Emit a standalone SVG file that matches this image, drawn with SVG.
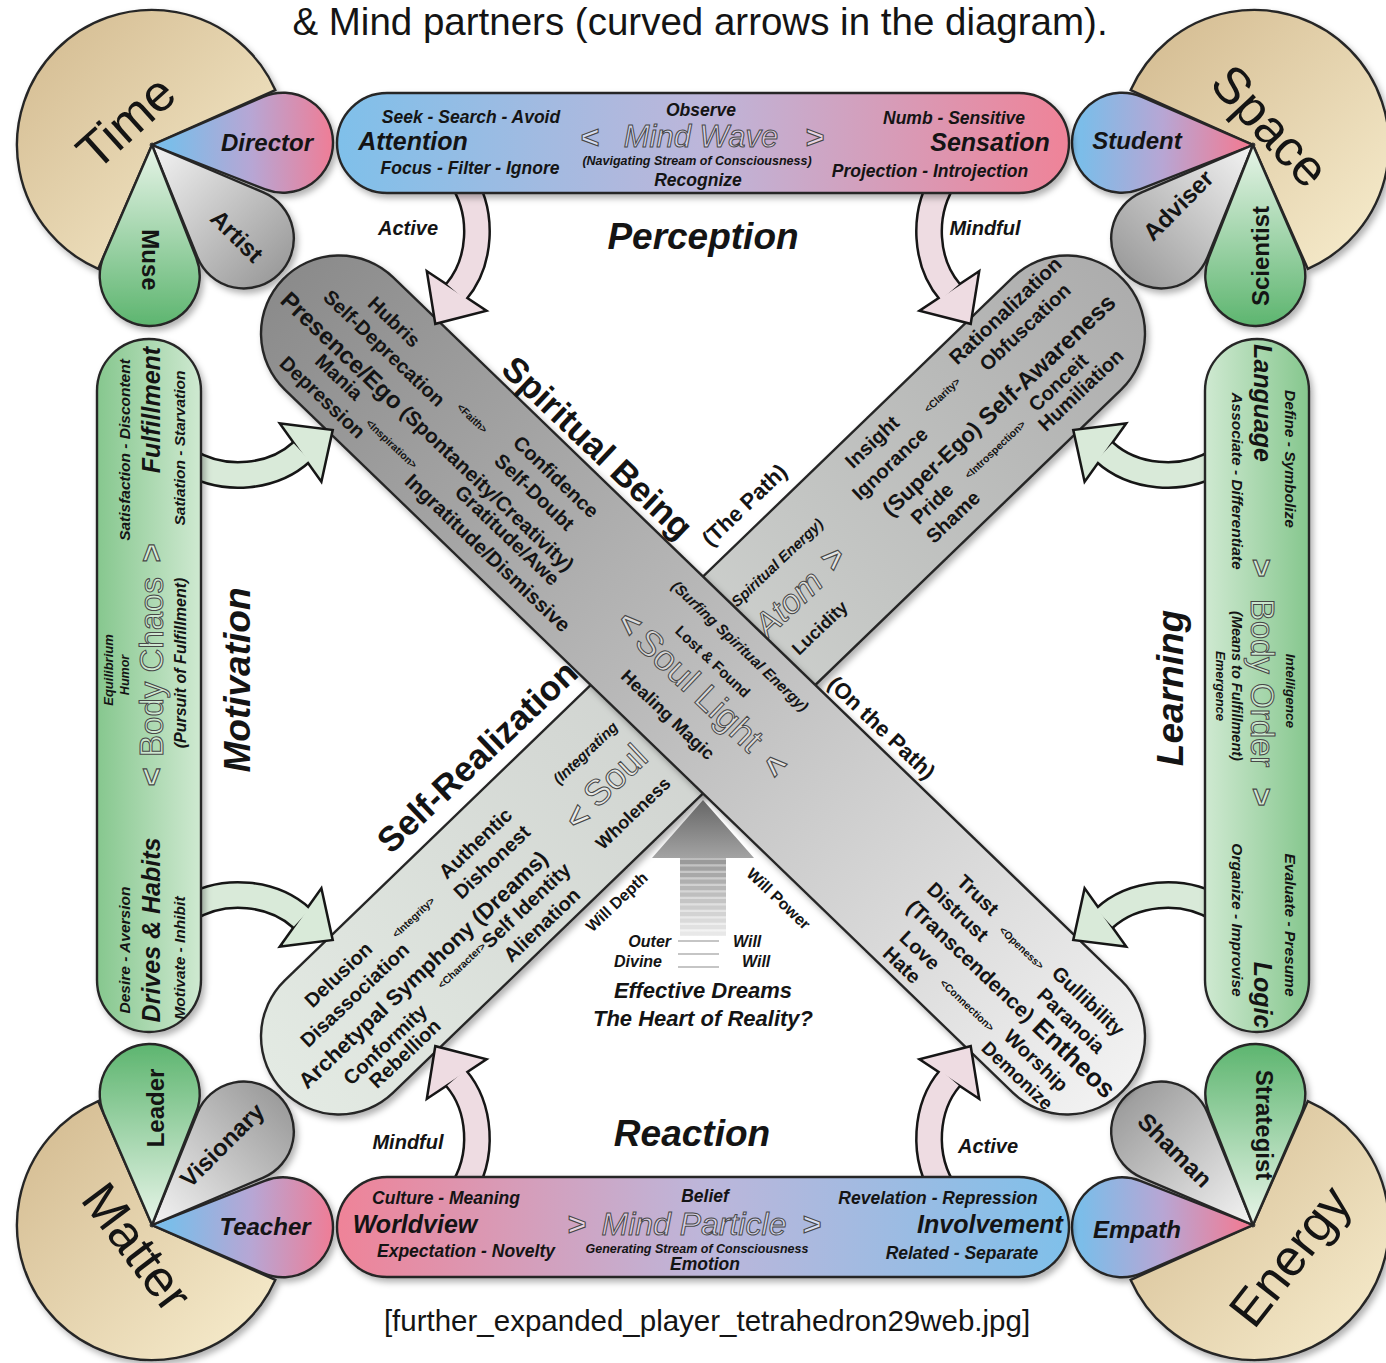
<svg xmlns="http://www.w3.org/2000/svg" width="1386" height="1363" viewBox="0 0 1386 1363">
<style>
text{font-family:"Liberation Sans",Arial,Helvetica,sans-serif;fill:#141414}
.c{text-anchor:middle;dominant-baseline:central}
.b{font-weight:bold}
.bi{font-weight:bold;font-style:italic}
.ol{fill:rgba(255,255,255,0.42);stroke:#474747;stroke-width:1px}
.olb{fill:rgba(255,255,255,0.5);stroke:#474747;stroke-width:1.1px;font-weight:bold}
.sm{font-size:10.5px;font-weight:bold}
.w20{font-size:20px;font-weight:bold}
.edge{stroke:#272727;stroke-width:2.4px}
.big{font-size:51px}
.bar{font-size:17.5px;font-weight:bold;font-style:italic}
.barbig{font-size:25px;font-weight:bold;font-style:italic}
.side{font-size:15.5px;font-weight:bold;font-style:italic}
.sect{font-size:37px;font-weight:bold;font-style:italic}
.pet{font-size:24px;font-weight:bold}
.lab{font-size:20px;font-weight:bold;font-style:italic}
.ao{fill:none;stroke:#161616;stroke-width:28px}
.ah{fill:#161616;stroke:#161616;stroke-width:5px;stroke-linejoin:miter}
.pk .af{fill:none;stroke:#eedce2;stroke-width:23px}
.pk .hf{fill:#eedce2;stroke:none}
.gn .af{fill:none;stroke:#d9ead9;stroke-width:23px}
.gn .hf{fill:#d9ead9;stroke:none}
</style>
<defs>
<linearGradient id="gTan" x1="0" y1="0" x2="1" y2="1"><stop offset="0" stop-color="#d2b98e"/><stop offset="1" stop-color="#f8eecf"/></linearGradient>
<linearGradient id="gBP" x1="0" y1="0" x2="1" y2="0"><stop offset="0.1" stop-color="#7bbde9"/><stop offset="0.55" stop-color="#b7a6d4"/><stop offset="1" stop-color="#ef7d96"/></linearGradient>
<linearGradient id="gPB" x1="0" y1="0" x2="1" y2="0"><stop offset="0.05" stop-color="#ef7d96"/><stop offset="0.5" stop-color="#b7a6d4"/><stop offset="0.95" stop-color="#7bbde9"/></linearGradient>
<linearGradient id="gGr" x1="0" y1="0" x2="1" y2="0"><stop offset="0" stop-color="#f4f4f4"/><stop offset="1" stop-color="#9c9c9c"/></linearGradient>
<linearGradient id="gGn" x1="0" y1="0" x2="1" y2="0"><stop offset="0" stop-color="#e8f5e9"/><stop offset="1" stop-color="#5db56f"/></linearGradient>
<linearGradient id="gTop" x1="0" y1="0" x2="1" y2="0"><stop offset="0" stop-color="#7fc0ea"/><stop offset="0.5" stop-color="#bdb6da"/><stop offset="1" stop-color="#ef8398"/></linearGradient>
<linearGradient id="gBot" x1="0" y1="0" x2="1" y2="0"><stop offset="0" stop-color="#ef8398"/><stop offset="0.5" stop-color="#bdb6da"/><stop offset="1" stop-color="#7fc0ea"/></linearGradient>
<linearGradient id="gL" x1="0" y1="0" x2="1" y2="0"><stop offset="0" stop-color="#86c78e"/><stop offset="1" stop-color="#cfe9d1"/></linearGradient>
<linearGradient id="gR" x1="0" y1="0" x2="1" y2="0"><stop offset="0" stop-color="#cfe9d1"/><stop offset="1" stop-color="#86c78e"/></linearGradient>
<linearGradient id="gB1" gradientUnits="userSpaceOnUse" x1="-584" y1="0" x2="584" y2="0"><stop offset="0" stop-color="#8b8b8b"/><stop offset="0.5" stop-color="#bdbdbd"/><stop offset="1" stop-color="#f2f2f2"/></linearGradient>
<linearGradient id="gB2" gradientUnits="userSpaceOnUse" x1="-584" y1="0" x2="584" y2="0"><stop offset="0" stop-color="#e3eae3"/><stop offset="0.5" stop-color="#cfd2cf"/><stop offset="1" stop-color="#adadad"/></linearGradient>
<linearGradient id="gHead" x1="0" y1="0" x2="0" y2="1"><stop offset="0" stop-color="#666666"/><stop offset="1" stop-color="#a3a3a3"/></linearGradient>
<linearGradient id="gShaft" x1="0" y1="0" x2="0" y2="1"><stop offset="0" stop-color="#bdbdbd"/><stop offset="1" stop-color="#f7f7f7"/></linearGradient>
<filter id="sh" x="-10%" y="-10%" width="125%" height="125%"><feDropShadow dx="3" dy="4" stdDeviation="3" flood-color="#000" flood-opacity="0.3"/></filter>
<path id="petal" d="M0,0 L111.9,-46.2 A50,50 0 1 1 111.9,46.2 Z"/>
<path id="ash" d="M460,176 C486,214 480,264 456,292"/>
<polygon id="ahd" points="428.5,273.8 483.5,310.2 436.3,322.3"/>
</defs>

<rect width="1386" height="1363" fill="#ffffff"/>
<text x="700" y="35" font-size="38.5" text-anchor="middle">&amp; Mind partners (curved arrows in the diagram).</text>

<!-- corners -->
<g id="node-time">
<g filter="url(#sh)">
<path class="edge" fill="url(#gTan)" d="M152,145 L98.2,268.8 A135,135 0 1 1 275.3,90.1 Z"/>
<use href="#petal" class="edge" fill="url(#gBP)" transform="translate(152,145) rotate(-1)"/>
<use href="#petal" class="edge" fill="url(#gGr)" transform="translate(152,145) rotate(45.5)"/>
<use href="#petal" class="edge" fill="url(#gGn)" transform="translate(152,145) rotate(91)"/>
</g>
<text class="c big" x="126" y="122" transform="rotate(-42 126 122)">Time</text>
<text class="c pet bi" x="267" y="142">Director</text>
<text class="c pet" font-size="25" x="237" y="236" transform="rotate(45 237 236)">Artist</text>
<text class="c pet" x="150" y="260" transform="rotate(90 150 260)">Muse</text>
</g>

<g id="node-space">
<g filter="url(#sh)">
<path class="edge" fill="url(#gTan)" d="M1253,145 L1307.8,268.8 A135,135 0 1 0 1130.7,90.1 Z"/>
<use href="#petal" class="edge" fill="url(#gPB)" transform="translate(1253,145) rotate(181)"/>
<use href="#petal" class="edge" fill="url(#gGr)" transform="translate(1253,145) rotate(134.5)"/>
<use href="#petal" class="edge" fill="url(#gGn)" transform="translate(1253,145) rotate(89)"/>
</g>
<text class="c big" x="1270" y="126" transform="rotate(47 1270 126)">Space</text>
<text class="c pet bi" x="1137" y="140">Student</text>
<text class="c pet" font-size="25" x="1178" y="205" transform="rotate(-45 1178 205)">Adviser</text>
<text class="c pet" x="1260" y="256" transform="rotate(-90 1260 256)">Scientist</text>
</g>

<g id="node-matter">
<g filter="url(#sh)">
<path class="edge" fill="url(#gTan)" d="M152,1225 L98.2,1101.2 A135,135 0 1 0 275.3,1279.9 Z"/>
<use href="#petal" class="edge" fill="url(#gBP)" transform="translate(152,1225) rotate(1)"/>
<use href="#petal" class="edge" fill="url(#gGr)" transform="translate(152,1225) rotate(-45.5)"/>
<use href="#petal" class="edge" fill="url(#gGn)" transform="translate(152,1225) rotate(-91)"/>
</g>
<text class="c big" x="137" y="1247" transform="rotate(53 137 1247)">Matter</text>
<text class="c pet bi" x="265" y="1226">Teacher</text>
<text class="c pet" font-size="25" x="222" y="1145" transform="rotate(-45 222 1145)">Visionary</text>
<text class="c pet" font-size="23" x="155" y="1108" transform="rotate(-90 155 1108)">Leader</text>
</g>

<g id="node-energy">
<g filter="url(#sh)">
<path class="edge" fill="url(#gTan)" d="M1253,1225 L1307.8,1101.2 A135,135 0 1 1 1130.7,1279.9 Z"/>
<use href="#petal" class="edge" fill="url(#gPB)" transform="translate(1253,1225) rotate(179)"/>
<use href="#petal" class="edge" fill="url(#gGr)" transform="translate(1253,1225) rotate(-134.5)"/>
<use href="#petal" class="edge" fill="url(#gGn)" transform="translate(1253,1225) rotate(-89)"/>
</g>
<text class="c big" x="1290" y="1256" transform="rotate(-52 1290 1256)">Energy</text>
<text class="c pet bi" font-size="23" x="1137" y="1229">Empath</text>
<text class="c pet" font-size="25" x="1175" y="1150" transform="rotate(45 1175 1150)">Shaman</text>
<text class="c pet" x="1264" y="1125" transform="rotate(90 1264 1125)">Strategist</text>
</g>

<!-- band 2 : Self-Realization / Atom -->
<g id="node-selfrealization">
<g filter="url(#sh)"><g transform="translate(703,685) rotate(-44)">
<rect x="-584" y="-78" width="1168" height="156" rx="78" fill="url(#gB2)" class="edge"/>
</g></g>
<g transform="translate(703,685) rotate(-43.5)">
<text class="c w20" x="290" y="-60">Insight</text>
<text class="c sm" x="373" y="-46">&lt;Clarity&gt;</text>
<text class="c b" font-size="20.5" x="477" y="-64">Rationalization</text>
<text class="c w20" x="288" y="-32">Ignorance</text>
<text class="c w20" x="480" y="-38">Obfuscation</text>
<text class="c b" x="407" y="0"><tspan font-size="22">(Super-Ego)</tspan><tspan font-size="24"> Self-Awareness</tspan></text>
<text class="c w20" x="291" y="26">Pride</text>
<text class="c sm" x="374" y="30">&lt;Introspection&gt;</text>
<text class="c w20" x="466" y="25">Conceit</text>
<text class="c w20" x="297" y="50">Shame</text>
<text class="c w20" x="477" y="46">Humiliation</text>
<text class="c bi" font-size="15" x="138" y="-38">Spiritual Energy)</text>
<text class="c ol" font-size="34" font-style="italic" x="118" y="-1">Atom</text>
<text class="c olb" font-size="34" x="182" y="-3">&gt;</text>
<text class="c b" font-size="18" x="124" y="39">Lucidity</text>
<text class="c w20" x="-464" y="-41">Delusion</text>
<text class="c sm" x="-370" y="-31">&lt;Integrity&gt;</text>
<text class="c w20" x="-274" y="-42">Authentic</text>
<text class="c w20" x="-466" y="-15">Disassociation</text>
<text class="c w20" x="-275" y="-17">Dishonest</text>
<text class="c b" font-size="22" x="-399" y="14">Archetypal Symphony (Dreams)</text>
<text class="c w20" x="-478" y="42">Conformity</text>
<text class="c sm" x="-368" y="37">&lt;Character&gt;</text>
<text class="c w20" x="-280" y="38">Self Identity</text>
<text class="c w20" x="-470" y="62">Rebellion</text>
<text class="c w20" x="-282" y="63">Alienation</text>
<text class="c bi" font-size="15" x="-132" y="-32">(Integrating</text>
<text class="c olb" font-size="34" x="-182" y="9">&lt;</text>
<text class="c ol" font-size="36" x="-126" y="5">Soul</text>
<text class="c b" font-size="18" x="-139" y="45">Wholeness</text>
<text class="c b" font-size="35" x="-213" y="-104">Self-Realization</text>
<text class="c b" font-size="22" x="154" y="-102">(The Path)</text>
<text class="c b" font-size="16" x="-212" y="98">Will Depth</text>
</g>
</g>

<!-- band 1 : Spiritual Being / Soul Light -->
<g id="node-spiritualbeing">
<g filter="url(#sh)"><g transform="translate(703,685) rotate(44)">
<rect x="-584" y="-78" width="1168" height="156" rx="78" fill="url(#gB1)" class="edge"/>
</g></g>
<g transform="translate(703,685) rotate(43.5)">
<text class="c w20" x="-474" y="-51">Hubris</text>
<text class="c sm" x="-351" y="-35">&lt;Faith&gt;</text>
<text class="c w20" x="-250" y="-50">Confidence</text>
<text class="c w20" x="-463" y="-25">Self-Deprecation</text>
<text class="c w20" x="-255" y="-24">Self-Doubt</text>
<text class="c b" x="-374" y="5"><tspan font-size="24">Presence/Ego</tspan><tspan font-size="20.5"> (Spontaneity/Creativity)</tspan></text>
<text class="c w20" x="-476" y="27">Mania</text>
<text class="c sm" x="-392" y="39">&lt;Inspiration&gt;</text>
<text class="c w20" x="-245" y="26">Gratitude/Awe</text>
<text class="c w20" x="-474" y="53">Depression</text>
<text class="c b" font-size="20.5" x="-247" y="52">Ingratitude/Dismissive</text>
<text class="c w20" x="344" y="-37">Trust</text>
<text class="c sm" x="412" y="-29">&lt;Openess&gt;</text>
<text class="c w20" x="497" y="-36">Gullibility</text>
<text class="c w20" x="341" y="-11">Distrust</text>
<text class="c w20" x="498" y="-10">Paranoia</text>
<text class="c b" x="439" y="15"><tspan font-size="21">(Transcendence)</tspan><tspan font-size="26"> Entheos</tspan></text>
<text class="c w20" x="340" y="43">Love</text>
<text class="c sm" x="412" y="50">&lt;Connection&gt;</text>
<text class="c w20" x="500" y="43">Worship</text>
<text class="c w20" x="337" y="66">Hate</text>
<text class="c b" font-size="19" x="497" y="67">Demonize</text>
<text class="c b" font-size="35" x="-240" y="-100">Spiritual Being</text>
<text class="c b" font-size="22" x="159" y="-92">(On the Path)</text>
<text class="c b" font-size="16" x="202" y="103">Will Power</text>
<text class="c bi" font-size="15" x="0" y="-54">(Surfing Spiritual Energy)</text>
<text class="c b" font-size="15" x="-9" y="-24">Lost &amp; Found</text>
<text class="c olb" font-size="34" x="-96" y="5">&lt;</text>
<text class="c ol" font-size="36" x="1" y="6">Soul Light</text>
<text class="c olb" font-size="34" x="107" y="8">&lt;</text>
<text class="c b" font-size="18" x="-5" y="46">Healing Magic</text>
</g>
</g>

<!-- center -->
<g id="node-heart">
<polygon points="703,800 652,858 754,858" fill="url(#gHead)"/>
<rect x="680" y="858" width="46" height="78" fill="url(#gShaft)"/>
<rect x="680" y="860" width="46" height="4.2" fill="#9a9a9a"/>
<rect x="680" y="866.5" width="46" height="4.2" fill="#a1a1a1"/>
<rect x="680" y="873" width="46" height="4.2" fill="#a8a8a8"/>
<rect x="680" y="879.5" width="46" height="4.2" fill="#afafaf"/>
<rect x="680" y="886" width="46" height="4.2" fill="#b6b6b6"/>
<rect x="680" y="892.5" width="46" height="4.2" fill="#bebebe"/>
<rect x="680" y="899" width="46" height="4.2" fill="#c5c5c5"/>
<rect x="680" y="905.5" width="46" height="4.2" fill="#cccccc"/>
<rect x="680" y="912" width="46" height="4.2" fill="#d3d3d3"/>
<rect x="680" y="918.5" width="46" height="4.2" fill="#dadada"/>
<rect x="680" y="925" width="46" height="4.2" fill="#e1e1e1"/>
<rect x="680" y="931.5" width="46" height="4.2" fill="#e8e8e8"/>
<g stroke="#b2b2b2" stroke-width="1.3">
<line x1="678" y1="941" x2="719" y2="941"/>
<line x1="678" y1="954" x2="719" y2="954"/>
<line x1="678" y1="967" x2="719" y2="967"/>
</g>
<text class="bi" font-size="16" x="671" y="947" text-anchor="end">Outer</text>
<text class="bi" font-size="16" x="662" y="967" text-anchor="end">Divine</text>
<text class="bi" font-size="16" x="733" y="947">Will</text>
<text class="bi" font-size="16" x="742" y="967">Will</text>
<text class="c bi" font-size="22" x="703" y="990">Effective Dreams</text>
<text class="c bi" font-size="22" x="703" y="1018">The Heart of Reality?</text>
</g>

<!-- curved arrows -->
<g id="connectors">
<g class="pk"><use href="#ash" class="ao"/><use href="#ahd" class="ah"/><use href="#ash" class="af"/><use href="#ahd" class="hf"/></g>
<g class="pk" transform="matrix(-1,0,0,1,1406,0)"><use href="#ash" class="ao"/><use href="#ahd" class="ah"/><use href="#ash" class="af"/><use href="#ahd" class="hf"/></g>
<g class="pk" transform="matrix(1,0,0,-1,0,1370)"><use href="#ash" class="ao"/><use href="#ahd" class="ah"/><use href="#ash" class="af"/><use href="#ahd" class="hf"/></g>
<g class="pk" transform="matrix(-1,0,0,-1,1406,1370)"><use href="#ash" class="ao"/><use href="#ahd" class="ah"/><use href="#ash" class="af"/><use href="#ahd" class="hf"/></g>
<g class="gn" transform="matrix(0.0349,0.9994,0.9994,-0.0349,-6.12,6.33)"><use href="#ash" class="ao"/><use href="#ahd" class="ah"/><use href="#ash" class="af"/><use href="#ahd" class="hf"/></g>
<g class="gn" transform="matrix(0.0349,-0.9994,0.9994,0.0349,-6.12,1363.68)"><use href="#ash" class="ao"/><use href="#ahd" class="ah"/><use href="#ash" class="af"/><use href="#ahd" class="hf"/></g>
<g class="gn" transform="matrix(-0.0349,0.9994,-0.9994,-0.0349,1412.12,6.33)"><use href="#ash" class="ao"/><use href="#ahd" class="ah"/><use href="#ash" class="af"/><use href="#ahd" class="hf"/></g>
<g class="gn" transform="matrix(-0.0349,-0.9994,-0.9994,0.0349,1412.12,1363.68)"><use href="#ash" class="ao"/><use href="#ahd" class="ah"/><use href="#ash" class="af"/><use href="#ahd" class="hf"/></g>
</g>

<!-- top bar -->
<g id="node-mindwave">
<rect x="337" y="93" width="732" height="100" rx="50" fill="url(#gTop)" class="edge" filter="url(#sh)"/>
<text class="c bar" x="471" y="117">Seek - Search - Avoid</text>
<text class="c barbig" x="413" y="141">Attention</text>
<text class="c bar" x="470" y="168">Focus - Filter - Ignore</text>
<text class="c bar" x="701" y="110">Observe</text>
<text class="c olb" font-size="32" x="590" y="137">&lt;</text>
<text class="c ol" font-size="31" font-style="italic" x="701" y="136">Mind Wave</text>
<text class="c olb" font-size="32" x="815" y="137">&gt;</text>
<text class="c bi" font-size="12.5" x="697" y="161">(Navigating Stream of Consciousness)</text>
<text class="c bar" x="698" y="180">Recognize</text>
<text class="c bar" x="954" y="118">Numb - Sensitive</text>
<text class="c barbig" x="990" y="142">Sensation</text>
<text class="c bar" x="930" y="171">Projection - Introjection</text>
</g>

<!-- bottom bar -->
<g id="node-mindparticle">
<rect x="337" y="1177" width="732" height="100" rx="50" fill="url(#gBot)" class="edge" filter="url(#sh)"/>
<text class="c bar" x="446" y="1198">Culture - Meaning</text>
<text class="c barbig" x="415" y="1224">Worldview</text>
<text class="c bar" x="466" y="1251">Expectation - Novelty</text>
<text class="c bar" x="705" y="1196">Belief</text>
<text class="c olb" font-size="32" x="577" y="1224">&gt;</text>
<text class="c ol" font-size="32" font-style="italic" x="694" y="1224">Mind Particle</text>
<text class="c olb" font-size="32" x="812" y="1224">&gt;</text>
<text class="c bi" font-size="12.5" x="697" y="1249">Generating Stream of Consciousness</text>
<text class="c bar" x="705" y="1264">Emotion</text>
<text class="c bar" x="938" y="1198">Revelation - Repression</text>
<text class="c barbig" x="990" y="1224">Involvement</text>
<text class="c bar" x="962" y="1253">Related - Separate</text>
</g>

<!-- left bar -->
<g id="node-bodychaos">
<rect x="97" y="339" width="104" height="693" rx="52" fill="url(#gL)" class="edge" filter="url(#sh)"/>
<text class="c side" x="124" y="450" transform="rotate(-90 124 450)">Satisfaction - Discontent</text>
<text class="c barbig" font-size="24" x="151" y="410" transform="rotate(-90 151 410)">Fulfillment</text>
<text class="c side" x="179" y="448" transform="rotate(-90 179 448)">Satiation - Starvation</text>
<text class="c bi" font-size="13" x="108" y="670" transform="rotate(-90 108 670)">Equilibrium</text>
<text class="c bi" font-size="12.5" x="125" y="675" transform="rotate(-90 125 675)">Humor</text>
<text class="c olb" font-size="32" x="151" y="777" transform="rotate(-90 151 777)">&lt;</text>
<text class="c ol" font-size="33" x="151" y="667" transform="rotate(-90 151 667)">Body Chaos</text>
<text class="c olb" font-size="32" x="151" y="553" transform="rotate(-90 151 553)">&gt;</text>
<text class="c bi" font-size="16" x="180" y="663" transform="rotate(-90 180 663)">(Pursuit of Fulfillment)</text>
<text class="c side" x="124" y="950" transform="rotate(-90 124 950)">Desire - Aversion</text>
<text class="c barbig" font-size="24" x="151" y="930" transform="rotate(-90 151 930)">Drives &amp; Habits</text>
<text class="c side" x="179" y="958" transform="rotate(-90 179 958)">Motivate - Inhibit</text>
</g>

<!-- right bar -->
<g id="node-bodyorder">
<rect x="1205" y="339" width="104" height="693" rx="52" fill="url(#gR)" class="edge" filter="url(#sh)"/>
<text class="c side" x="1290" y="459" transform="rotate(90 1290 459)">Define - Symbolize</text>
<text class="c barbig" font-size="24" x="1263" y="403" transform="rotate(90 1263 403)">Language</text>
<text class="c side" font-size="16" x="1237" y="481" transform="rotate(90 1237 481)">Associate - Differentiate</text>
<text class="c olb" font-size="32" x="1262" y="568" transform="rotate(90 1262 568)">&gt;</text>
<text class="c ol" font-size="33" x="1262" y="683" transform="rotate(90 1262 683)">Body Order</text>
<text class="c olb" font-size="32" x="1262" y="797" transform="rotate(90 1262 797)">&gt;</text>
<text class="c bi" font-size="13.5" x="1290" y="691" transform="rotate(90 1290 691)">Intelligence</text>
<text class="c bi" font-size="14.5" x="1237" y="686" transform="rotate(90 1237 686)">(Means to Fulfillment)</text>
<text class="c bi" font-size="13" x="1220" y="686" transform="rotate(90 1220 686)">Emergence</text>
<text class="c side" font-size="16" x="1290" y="925" transform="rotate(90 1290 925)">Evaluate - Presume</text>
<text class="c barbig" font-size="24" x="1263" y="995" transform="rotate(90 1263 995)">Logic</text>
<text class="c side" font-size="16" x="1237" y="920" transform="rotate(90 1237 920)">Organize - Improvise</text>
</g>

<!-- labels -->
<g id="labels">
<text class="c sect" x="703" y="236">Perception</text>
<text class="c sect" x="692" y="1133">Reaction</text>
<text class="c sect" x="237" y="680" transform="rotate(-90 237 680)">Motivation</text>
<text class="c sect" x="1170" y="688" transform="rotate(-90 1170 688)">Learning</text>
<text class="c lab" x="408" y="228">Active</text>
<text class="c lab" x="985" y="228">Mindful</text>
<text class="c lab" x="408" y="1142">Mindful</text>
<text class="c lab" x="988" y="1146">Active</text>
<text x="707" y="1331" font-size="29.5" text-anchor="middle">[further_expanded_player_tetrahedron29web.jpg]</text>
</g>
</svg>
